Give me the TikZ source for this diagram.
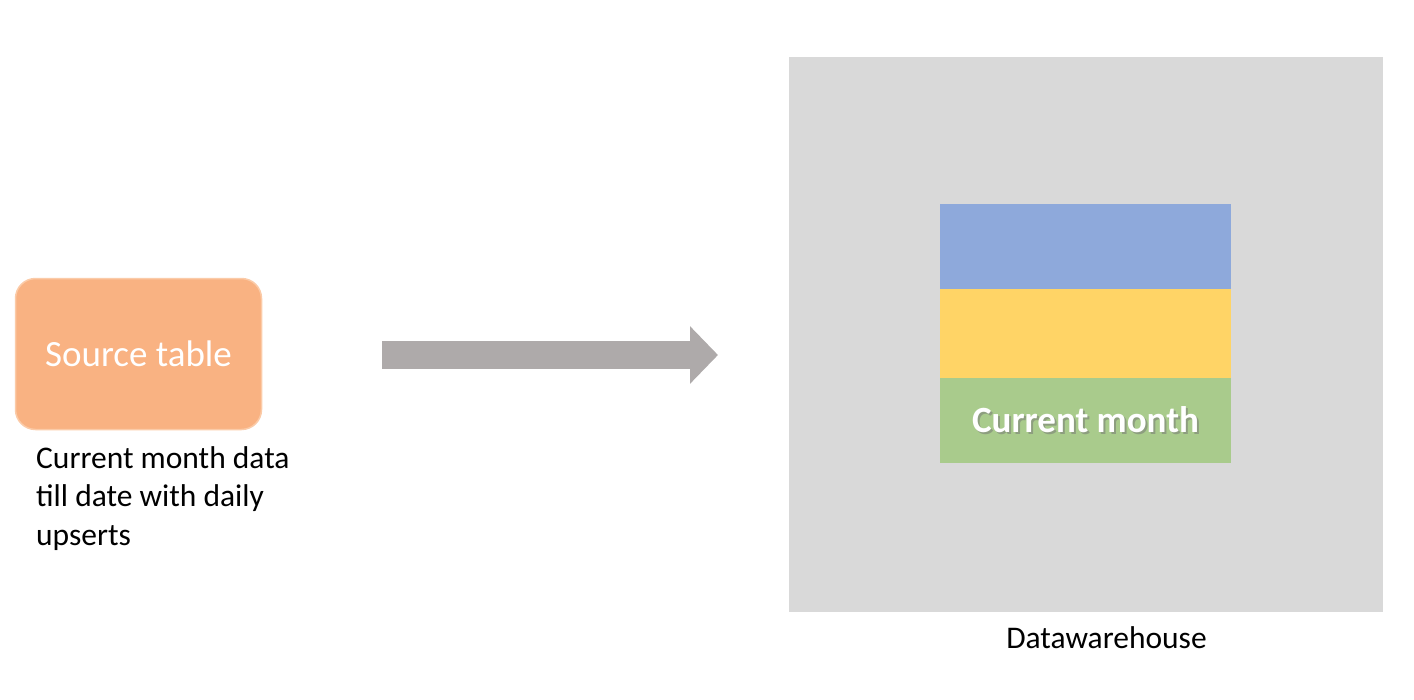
\documentclass[tikz,border=0pt]{standalone}
\usepackage{fontspec}
\setmainfont{Carlito}
\usetikzlibrary{positioning,arrows.meta}
\definecolor{srcfill}{HTML}{F9B282}
\definecolor{srcedge}{HTML}{FBCBA8}
\definecolor{flowgray}{HTML}{AEAAAA}
\definecolor{dwgray}{HTML}{D9D9D9}
\definecolor{bandblue}{HTML}{8EA9DB}
\definecolor{bandyellow}{HTML}{FFD466}
\definecolor{bandgreen}{HTML}{A9CB8C}
\tikzset{
    srcbox/.style={draw=srcedge, line width=1.5pt, fill=srcfill, rounded corners=20pt,
        minimum width=246pt, minimum height=151pt, text=white,
        font=\fontsize{37}{44}\selectfont},
    notetext/.style={align=left, inner sep=0pt, font=\fontsize{31.5}{38.5}\selectfont},
    band/.style={inner sep=0pt, outer sep=0pt, minimum width=291pt}
}
\begin{document}
\begin{tikzpicture}[x=1pt, y=-1pt]
    \useasboundingbox (0,0) rectangle (1414,699);
    % source side
    \node[srcbox] (src) at (138.5,354) {Source table};
    \node[notetext, anchor=base west] (srcnote) at (36,545)
        {Current month data\\till date with daily\\upserts};
    % warehouse
    \node[fill=dwgray, minimum width=594pt, minimum height=555pt] (dw) at (1086,334.5) {};
    \node[band, fill=bandblue, minimum height=85pt] (blue) at (1085.5,246.5) {};
    \node[band, fill=bandyellow, minimum height=89pt, below=0pt of blue] (yellow) {};
    \node[band, fill=bandgreen, minimum height=85pt, below=0pt of yellow] (green) {};
    \node[text=black!55, opacity=0.5, font=\fontsize{37}{44}\bfseries] (cmshadow)
        at (1087.5,421.5) {Current month};
    \node[text=white, font=\fontsize{37}{44}\bfseries] (cmlabel) at (1085.5,419.5) {Current month};
    \node[anchor=base, inner sep=0pt, font=\fontsize{31.5}{38.5}\selectfont] (dwlabel)
        at (1106.5,648) {Datawarehouse};
    % flow arrow
    \coordinate (flowstart) at (382,355);
    \coordinate (flowend) at (718,355);
    \draw[flowgray, line width=28pt, -{Triangle[length=28pt, width=56pt]}] (flowstart) -- (flowend);
\end{tikzpicture}
\end{document}
